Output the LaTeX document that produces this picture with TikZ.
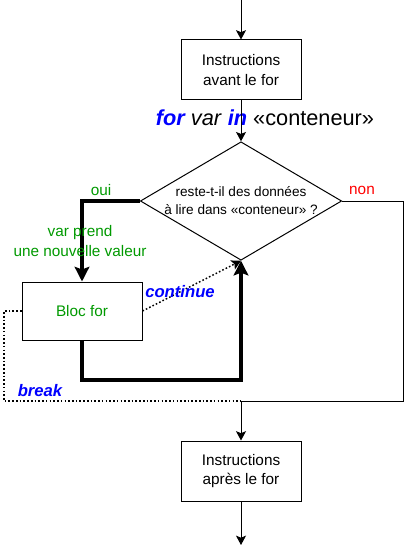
\documentclass[tikz,border=0pt]{standalone}
\usepackage{fontspec}
\setmainfont{Liberation Sans}
\usetikzlibrary{arrows.meta,shapes.geometric}
\definecolor{vert}{RGB}{0,153,0}
\definecolor{bleu}{RGB}{0,0,255}
\definecolor{rouge}{RGB}{255,0,0}

\begin{document}
\begin{tikzpicture}[x=0.75pt, y=-0.75pt,
	boite/.style={draw, line width=0.75pt, minimum width=90pt, minimum height=45pt, align=center, font=\fontsize{11.5}{14.6}\selectfont},
	test/.style={draw, diamond, line width=0.75pt, minimum width=150.75pt, minimum height=88.5pt, inner sep=0pt, aspect=1.7, align=center, font=\fontsize{10.2}{13.5}\selectfont},
	fin/.style={line width=0.75pt, -{Stealth[length=7pt, width=7.5pt, inset=1.5pt]}},
	gros/.style={line width=2.6pt, -{Stealth[length=11pt, width=11pt, inset=2pt]}},
	pointille/.style={line width=1.1pt, dash pattern=on 1.2pt off 1.6pt},
	etiq/.style={font=\fontsize{11.5}{14.3}\selectfont, align=center},
	motcle/.style={font=\fontsize{12.5}{15}\selectfont\bfseries\itshape, text=bleu}]
			%%%%% START %%%%%
			\useasboundingbox (0,0) rectangle (405,545);
			
			\coordinate (haut) at (241,0);
			\coordinate (bas) at (241,545);
			\coordinate (retour) at (241,380);
			\coordinate (sortie) at (241,401);
			\coordinate (coinbg) at (4,401);
			\coordinate (coinbd) at (403,401);
			
			\node[boite] (avant) at (241,70) {Instructions\\avant le for};
			\node[test] (reste) at (241,201) {reste-t-il des données\\à lire dans «conteneur» ?};
			\node[boite, minimum height=43.5pt, text=vert] (bloc) at (82,311) {Bloc for};
			\node[boite] (apres) at (241,471) {Instructions\\après le for};
			
			\node[font=\fontsize{16.3}{19}\selectfont] (boucle) at (265,118) {\textcolor{bleu}{\bfseries\itshape for} \textit{var} \textcolor{bleu}{\bfseries\itshape in} «conteneur»};
			
			\draw[fin] (haut) -- (avant);
			\draw[fin] (avant) -- (reste);
			
			% oui : on entre dans le bloc
			\draw[gros] (reste.west) -| (bloc.north);
			\node[etiq, text=vert] (oui) at (101,190) {oui};
			\node[etiq, text=vert] (prend) at (80,241) {var prend\\une nouvelle valeur};
			
			% fin du bloc : retour au test
			\draw[gros] (bloc.south) |- (retour) -- (reste.south);
			
			% continue
			\draw[pointille, -{Stealth[length=7pt, width=7.5pt, inset=1.5pt]}] (bloc.east) -- (reste.south);
			\node[motcle] (continue) at (180,292) {continue};
			
			% break
			\draw[pointille] (bloc.west) -| (coinbg) -- (sortie);
			\node[motcle] (break) at (40,391) {break};
			
			% non : sortie de la boucle
			\draw[line width=0.75pt] (reste.east) -| (coinbd) -- (sortie);
			\node[etiq, text=rouge] (non) at (362,190) {non};
			
			\draw[fin] (sortie) -- (apres);
			\draw[fin] (apres) -- (bas);
			%%%%% END %%%%%
		\end{tikzpicture}
\end{document}
